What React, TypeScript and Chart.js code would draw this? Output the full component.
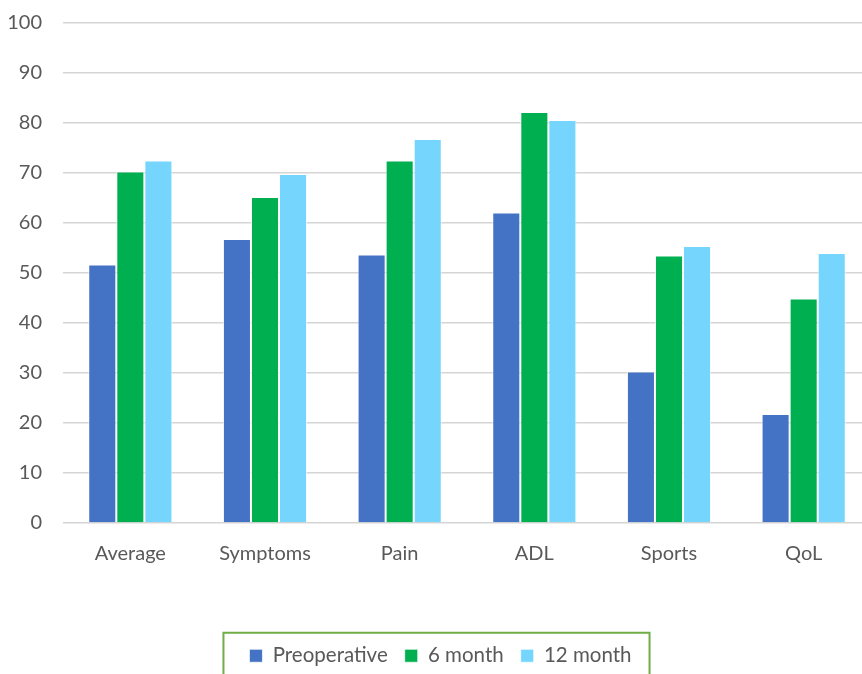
import React, { useEffect, useRef } from "react";
import { Chart, registerables } from "chart.js";

Chart.register(...registerables);

const categories = ["Average", "Symptoms", "Pain", "ADL", "Sports", "QoL"];
const preoperative = [51.7, 56.8, 53.7, 62.1, 30.3, 21.8];
const sixMonth = [70.3, 65.2, 72.5, 82.2, 53.5, 44.9];
const twelveMonth = [72.5, 69.8, 76.8, 80.6, 55.4, 54.0];
const seriesNames = ["Preoperative", "6 month", "12 month"];

const FONT = 'Lato, "Open Sans", sans-serif';
const TEXT = "#595959";

// Nudges the legend a little to the right and frames it with a thin green border
const legendFrame = {
  id: "legendFrame",
  afterLayout(chart: any) {
    const lg = chart.legend;
    if (!lg) return;
    lg.left += 5;
    lg.right += 5;
  },
  afterDraw(chart: any) {
    const boxes = chart.legend?.legendHitBoxes;
    if (!boxes || !boxes.length) return;
    const left = Math.min(...boxes.map((b: any) => b.left));
    const right = Math.max(...boxes.map((b: any) => b.left + b.width));
    const cy = boxes[0].top + boxes[0].height / 2;
    const ctx = chart.ctx;
    ctx.save();
    ctx.strokeStyle = "#70AD47";
    ctx.lineWidth = 2;
    ctx.strokeRect(left - 26, cy - 23, right - left + 44, 48);
    ctx.restore();
  },
};

export default function App() {
  const ref = useRef<HTMLCanvasElement>(null);

  useEffect(() => {
    if (!ref.current) return;
    const chart = new Chart(ref.current, {
      type: "bar",
      data: {
        labels: categories,
        datasets: [
          { label: seriesNames[0], data: preoperative, backgroundColor: "#4472C4" },
          { label: seriesNames[1], data: sixMonth, backgroundColor: "#00B050" },
          { label: seriesNames[2], data: twelveMonth, backgroundColor: "#75D5FC" },
        ].map((d) => ({
          ...d,
          borderColor: "rgba(255,255,255,0.7)",
          borderWidth: 1,
          categoryPercentage: 0.625,
          barPercentage: 1,
        })),
      },
      options: {
        responsive: false,
        animation: false,
        layout: { padding: { top: 23, left: 0, right: 0, bottom: 0 } },
        plugins: {
          tooltip: { enabled: false },
          legend: {
            position: "bottom",
            labels: {
              boxWidth: 13,
              boxHeight: 13,
              padding: 17,
              color: TEXT,
              font: { family: FONT, size: 20.5 },
            },
          },
        },
        scales: {
          x: {
            grid: { display: false, drawTicks: false },
            border: { display: false },
            ticks: { color: TEXT, font: { family: FONT, size: 20 }, padding: 19 },
            afterFit: (s: any) => {
              s.height = 105.5;
            },
          },
          y: {
            min: 0,
            max: 100,
            grid: { color: "#d5d5d5", lineWidth: 1.5, drawTicks: true, tickLength: 21, tickColor: "rgba(0,0,0,0)" },
            border: { display: false },
            ticks: { stepSize: 10, color: TEXT, font: { family: FONT, size: 20 }, padding: 0 },
            afterFit: (s: any) => {
              s.width = 63;
            },
          },
        },
      },
      plugins: [legendFrame],
    });
    return () => chart.destroy();
  }, []);

  return (
    <div
      style={{
        position: "fixed",
        top: 0,
        left: 0,
        width: 862,
        height: 674,
        overflow: "hidden",
        background: "#fff",
      }}
    >
      <canvas ref={ref} width={871} height={676} style={{ width: 871, height: 676, display: "block" }} />
    </div>
  );
}
